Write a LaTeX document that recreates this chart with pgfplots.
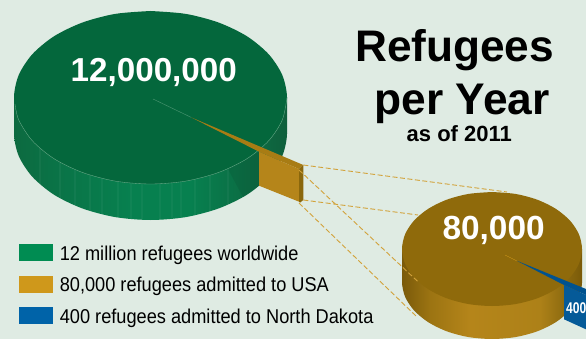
\documentclass[border=0pt]{standalone}
\usepackage{pgfplots}
\usepackage{pgfplotstable}
\usepackage{fontspec}
\pgfplotsset{compat=1.18}
\setmainfont{Liberation Sans}
\newfontfamily\legendfont[FakeStretch=0.91]{Liberation Sans}
\newfontfamily\narrowfont[FakeStretch=0.78]{Liberation Sans}

\definecolor{bgcol}{HTML}{DFEBE3}
\definecolor{greentop}{HTML}{04673C}
\definecolor{goldtop}{HTML}{8F6A0B}
\definecolor{goldface}{HTML}{B5851A}
\definecolor{goldstrip}{HTML}{A87C14}
\definecolor{goldedge}{HTML}{8A670C}
\definecolor{bluetop}{HTML}{00528F}
\definecolor{blueface}{HTML}{055A98}
\definecolor{leader}{HTML}{D2A23A}
\definecolor{rimline}{HTML}{6FAD8C}
\definecolor{swgreen}{HTML}{008C52}
\definecolor{swgold}{HTML}{CF981B}
\definecolor{swblue}{HTML}{0063A8}
\definecolor{ga}{HTML}{0D6A40}
\definecolor{gb}{HTML}{0A7246}
\definecolor{gc}{HTML}{07804F}
\definecolor{gd}{HTML}{0B6F45}
\definecolor{ge}{HTML}{0D6A42}
\definecolor{gf}{HTML}{0F5F3C}
\definecolor{ya}{HTML}{7A5A0A}
\definecolor{yb}{HTML}{9C7412}
\definecolor{yc}{HTML}{B5851A}
\definecolor{yd}{HTML}{AD8118}
\definecolor{ye}{HTML}{8F6C10}
\definecolor{yf}{HTML}{7A5A08}

% Side walls of the two discs, lit from the front
\pgfdeclarehorizontalshading{bigside}{100bp}{
  color(0bp)=(ga); color(25bp)=(ga); color(31.6bp)=(gb); color(46.25bp)=(gc);
  color(57.25bp)=(gc); color(66.4bp)=(gd); color(69.85bp)=(ge); color(75bp)=(gf);
  color(100bp)=(gf)}
\pgfdeclarehorizontalshading{smallside}{100bp}{
  color(0bp)=(ya); color(25bp)=(ya); color(32.8bp)=(yb); color(43.9bp)=(yc);
  color(63.35bp)=(yd); color(69.7bp)=(ye); color(75bp)=(yf); color(100bp)=(yf)}

% Upper rim of the large disc
\pgfplotstableread{
x y
150.5 11
185.8 13.9
218.75 22.6
247 36.3
268.7 54.25
282.3 75.1
287 97.5
282.3 119.9
268.7 140.75
247 158.7
218.75 172.4
185.8 181.1
150.5 184
115.2 181.1
82.25 172.4
54 158.7
32.3 140.75
18.7 119.9
14 97.5
18.7 75.1
32.3 54.25
54 36.3
82.25 22.6
115.2 13.9
150.5 11
}\bigrim

% Upper rim of the small disc
\pgfplotstableread{
x y
492 192
515.3 193.9
537 199.6
555.6 208.7
569.9 220.5
578.9 234.25
582 249
578.9 263.75
569.9 277.5
555.6 289.3
537 298.4
515.3 304.1
492 306
468.7 304.1
447 298.4
428.4 289.3
414.1 277.5
405.1 263.75
402 249
405.1 234.25
414.1 220.5
428.4 208.7
447 199.6
468.7 193.9
492 192
}\smallrim

\begin{document}
\begin{tikzpicture}
\begin{axis}[
  scale only axis, width=586pt, height=339pt,
  xmin=0, xmax=586, ymin=0, ymax=339, y dir=reverse,
  ticks=none, axis line style={draw=none, line width=0pt},
  axis background/.style={fill=bgcol},
  legend style={at={(19/586,1-244/339)}, anchor=north west, draw=none, fill=none,
    inner sep=0pt, outer sep=0pt, row sep=11.5pt, column sep=7.4pt,
    font=\legendfont\fontsize{20}{20}\selectfont,
    nodes={inner sep=0pt, outer sep=0pt, text height=16pt, text depth=4pt, anchor=base west}},
  legend cell align=left,
  legend image code/.code={\fill[#1] (0pt,0pt) rectangle (33pt,16pt);},
]
\addlegendimage{swgreen}
\addlegendentry{12 million refugees worldwide}
\addlegendimage{swgold}
\addlegendentry{80,000 refugees admitted to USA}
\addlegendimage{swblue}
\addlegendentry{400 refugees admitted to North Dakota}

% Large disc: wall, then top
\addplot[draw=none, shade, shading=bigside, smooth, forget plot] table[x=x, y expr=\thisrow{y}+36] {\bigrim} -- cycle;
\addplot[draw=none, shade, shading=bigside, forget plot] coordinates {(14,97.5)(287,97.5)(287,133.5)(14,133.5)} -- cycle;
% Faint vertical streaks on the wall
\addplot[white, opacity=0.04, line width=1.2pt, unbounded coords=jump, forget plot] coordinates {
 (40,148.2)(40,184)(40,nan)(60,162.3)(60,198)(60,nan)(75,169.6)(75,205.6)(75,nan)
 (90,175)(90,211)(90,nan)(102,178.4)(102,214.4)(102,nan)(118,181.5)(118,217.5)(118,nan)
 (131,183.1)(131,219)(131,nan)(142,183.8)(142,219.8)(142,nan)(160,183.8)(160,219.8)(160,nan)
 (172,183)(172,219)(172,nan)(181,181.8)(181,217.8)(181,nan)(195,179.3)(195,215.3)(195,nan)
 (210,175.3)(210,211.3)(210,nan)(228,168.7)(228,204.7)};
\addplot[draw=none, fill=black, fill opacity=0.07, forget plot] coordinates {(228,169)(259,152)(259,186)(243,197)} -- cycle;
\addplot[draw=none, fill=greentop, smooth, forget plot] table[x=x, y=y] {\bigrim} -- cycle;
\addplot[rimline, line width=0.35pt, smooth, forget plot] coordinates {
 (287,97.5)(282.3,119.9)(268.7,140.75)(247,158.7)(218.75,172.4)(185.8,181.1)(150.5,184)
 (115.2,181.1)(82.25,172.4)(54,158.7)(32.3,140.75)(18.7,119.9)(15,104)};

% Slice pulled out of the large disc
\addplot[rimline!60!greentop, line width=0.5pt, forget plot] coordinates {(153,99)(191,117.3)};
\addplot[draw=none, fill=goldstrip, forget plot] coordinates {(191,117.3)(303.3,165)(299,169)(259,151.7)} -- cycle;
\addplot[draw=none, fill=goldface, forget plot] coordinates {(259,151.7)(299,169)(299,201.7)(259,185.7)} -- cycle;
\addplot[draw=none, fill=goldedge, forget plot] coordinates {(299,169)(303.3,165)(303.3,200)(300,202.7)(299,201.7)} -- cycle;

% Small disc: wall, then top
\addplot[draw=none, shade, shading=smallside, smooth, forget plot] table[x=x, y expr=\thisrow{y}+33] {\smallrim} -- cycle;
\addplot[draw=none, shade, shading=smallside, forget plot] coordinates {(402,249)(582,249)(582,282)(402,282)} -- cycle;
\addplot[draw=none, fill=goldtop, smooth, forget plot] table[x=x, y=y] {\smallrim} -- cycle;

% Slice pulled out of the small disc
\addplot[swgold, line width=0.4pt, forget plot] coordinates {(505,255)(517,261)};
\addplot[draw=none, fill=bluetop, forget plot] coordinates {(516.7,260.7)(586,289)(586,295)(564,285)} -- cycle;
\addplot[draw=none, fill=blueface, forget plot] coordinates {(564,285)(586,295)(586,329.3)(564,319.3)} -- cycle;

% Dashed leader lines between the two discs
\addplot[leader, line width=0.9pt, dash pattern=on 5pt off 2.5pt, forget plot] coordinates {(303.3,165)(507,192)};
\addplot[leader, line width=0.9pt, dash pattern=on 5pt off 2.5pt, forget plot] coordinates {(303.3,200)(418,215)};
\addplot[leader, line width=0.9pt, dash pattern=on 5pt off 2.5pt, forget plot] coordinates {(299,170)(418,281.7)};
\addplot[leader, line width=0.9pt, dash pattern=on 5pt off 2.5pt, forget plot] coordinates {(299,203)(416.7,316.7)};

% Titles and value labels
\node[anchor=base west, inner sep=0pt, font=\bfseries\fontsize{44.2}{44}\selectfont] at (axis cs:355,61.7) {Refugees};
\node[anchor=base west, inner sep=0pt, font=\bfseries\fontsize{44.3}{44}\selectfont] at (axis cs:374.5,115) {per Year};
\node[anchor=base west, inner sep=0pt, font=\bfseries\fontsize{22}{22}\selectfont] at (axis cs:406.5,141.7) {as of 2011};
\node[anchor=base west, inner sep=0pt, text=white, font=\bfseries\fontsize{33.2}{33}\selectfont] at (axis cs:70.5,81.7) {12,000,000};
\node[anchor=base west, inner sep=0pt, text=white, font=\bfseries\fontsize{33.4}{33}\selectfont] at (axis cs:442.3,240) {80,000};
\node[anchor=base west, inner sep=0pt, text=white, font=\narrowfont\bfseries\fontsize{15.5}{16}\selectfont] at (axis cs:566,313) {400};
\end{axis}
\end{tikzpicture}
\end{document}
